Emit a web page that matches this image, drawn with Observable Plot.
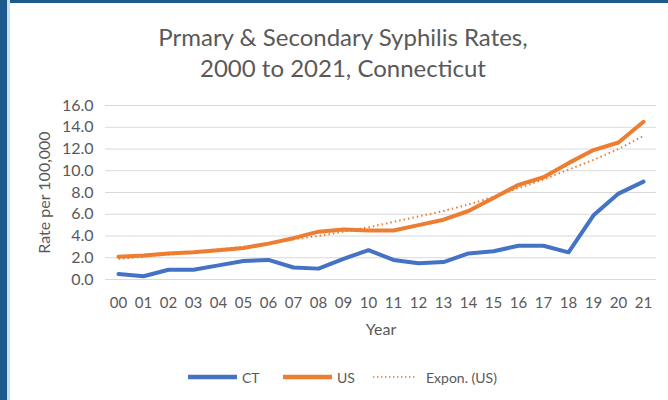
<!DOCTYPE html>
<html>
<head>
<meta charset="utf-8">
<script src="https://cdn.jsdelivr.net/npm/d3@7"></script>
<script src="https://cdn.jsdelivr.net/npm/@observablehq/plot@0.6"></script>
<style>
  html, body { margin: 0; padding: 0; background: #fff; }
  #wrap { position: relative; width: 668px; height: 400px; overflow: hidden; background: #fff; font-family: Lato, "Open Sans", sans-serif; color: #595959; }
  #bl { position: absolute; left: 0; top: 0; width: 7px; height: 400px; background: #1d5a8e; }
  #bl2 { position: absolute; left: 7px; top: 0; width: 3px; height: 400px; background: #cfe0ef; }
  #bt { position: absolute; left: 0; top: 0; width: 668px; height: 3px; background: #1d5a8e; }
  #title { position: absolute; left: 0; width: 686px; top: 21px; text-align: center; font-size: 24px; line-height: 31px; color: #595959; }
  #chart { position: absolute; left: 0; top: 90px; }
  .lg { position: absolute; top: 367px; height: 20px; display: flex; align-items: center; font-size: 14px; color: #595959; }
  .lg svg { margin-right: 5px; }
</style>
</head>
<body>
<div id="wrap">
  <div id="bt"></div>
  <div id="bl"></div>
  <div id="bl2"></div>
  <div id="title">Prmary &amp; Secondary Syphilis Rates,<br>2000 to 2021, Connecticut</div>
  <div id="chart"></div>
  <div class="lg" style="left:188px"><svg width="49" height="6"><line x1="0" y1="3" x2="49" y2="3" stroke="#4472c4" stroke-width="4.5"/></svg>CT</div>
  <div class="lg" style="left:283px"><svg width="49" height="6"><line x1="0" y1="3" x2="49" y2="3" stroke="#ed7d31" stroke-width="4.5"/></svg>US</div>
  <div class="lg" style="left:373px"><svg width="48" height="6"><line x1="0" y1="3" x2="42" y2="3" stroke="#ed7d31" stroke-width="1.5" stroke-dasharray="1.5 2.5"/></svg>Expon. (US)</div>
</div>
<script>
const years = ["00","01","02","03","04","05","06","07","08","09","10","11","12","13","14","15","16","17","18","19","20","21"];
const ctRates = [0.5,0.3,0.9,0.9,1.3,1.7,1.8,1.1,1.0,1.9,2.7,1.8,1.5,1.6,2.4,2.6,3.1,3.1,2.5,5.9,7.9,9.0];
const usRates = [2.1,2.2,2.4,2.5,2.7,2.9,3.3,3.8,4.4,4.6,4.5,4.5,5.0,5.5,6.3,7.5,8.7,9.4,10.7,11.9,12.6,14.5];
const usTrend = [1.9,2.1,2.3,2.5,2.8,3.0,3.3,3.7,4.0,4.4,4.8,5.3,5.8,6.3,6.9,7.6,8.4,9.2,10.1,11.0,12.0,13.2];
const yTicks = [0,2,4,6,8,10,12,14,16];

const ct = years.map((y, i) => ({year: y, value: ctRates[i]}));
const us = years.map((y, i) => ({year: y, value: usRates[i]}));
const trend = years.map((y, i) => ({year: y, value: usTrend[i]}));

const chart = Plot.plot({
  width: 668,
  height: 260,
  marginTop: 15,
  marginBottom: 71,
  marginLeft: 105,
  marginRight: 12,
  style: {fontFamily: "Lato, 'Open Sans', sans-serif", fontSize: "15px", color: "#595959", background: "transparent"},
  x: {type: "point", domain: years, padding: 0.5},
  y: {domain: [0, 16]},
  marks: [
    Plot.gridY(yTicks, {stroke: "#d9d9d9", strokeOpacity: 1, strokeWidth: 1}),
    Plot.axisY(yTicks, {tickSize: 0, tickPadding: 12, tickFormat: d3.format(".1f"), label: null, fontSize: 16, fill: "#595959"}),
    Plot.axisX({tickSize: 0, tickPadding: 18, label: null, fontSize: 15, fill: "#595959"}),
    Plot.text(["Rate per 100,000"], {frameAnchor: "left", textAnchor: "middle", dx: -61, rotate: -90, fontSize: 16, fill: "#595959"}),
    Plot.text(["Year"], {frameAnchor: "bottom", dy: 55, fontSize: 16, fill: "#595959"}),
    Plot.lineY(trend, {x: "year", y: "value", stroke: "#ed7d31", strokeWidth: 2, strokeDasharray: "1.5 3", strokeLinecap: "butt"}),
    Plot.lineY(ct, {x: "year", y: "value", stroke: "#4472c4", strokeWidth: 4, strokeLinejoin: "round"}),
    Plot.lineY(us, {x: "year", y: "value", stroke: "#ed7d31", strokeWidth: 4, strokeLinejoin: "round"})
  ]
});
document.getElementById("chart").append(chart);
</script>
</body>
</html>
